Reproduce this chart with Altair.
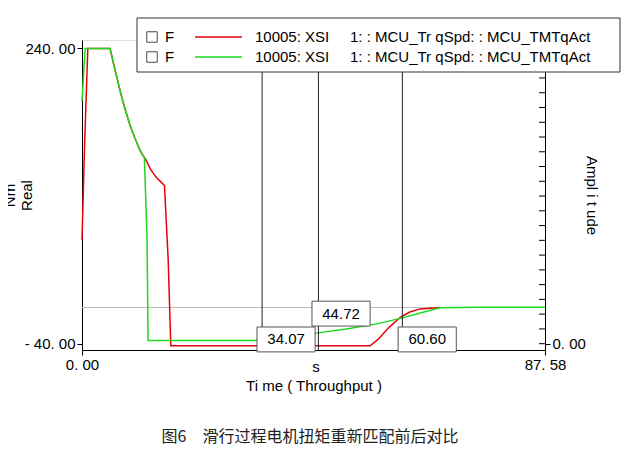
import altair as alt
import pandas as pd

red_t = [0, 0.5, 1.1, 5.3, 6, 7.2, 8, 9.1, 10, 11, 12.1, 13, 14, 15, 15.6, 16.3, 16.8, 54.5, 56, 58, 60.2, 62, 64, 67.7]
red_v = [58, 150, 240, 240, 225, 200, 185, 167, 155, 143, 134, 125, 118, 113, 110, 40, -42, -42, -36, -25, -15, -10, -7, -5.7]
green_t = [0, 0.6, 5.3, 6, 7.2, 8, 9.1, 10, 11, 11.8, 12.3, 12.5, 32.7, 34, 44.3, 50, 56, 60.2, 64, 67.7, 75, 87.58]
green_v = [190, 240, 240, 225, 200, 185, 167, 155, 143, 136, 60, -37, -37, -36, -30, -26, -21, -16, -11, -6, -5.5, -5.5]
cursors = [34.07, 44.72, 60.60]
cursor_labels = ["34.07", "44.72", "60.60"]
box_center = [38.6, 49.0, 65.3]
box_y = [-36, -11.5, -36]
ref_level = -5.7

FONT = "Liberation Sans"
X = alt.Scale(domain=[0, 87.58], nice=False)
Y = alt.Scale(domain=[-46, 248], nice=False)

df = pd.DataFrame({"t": red_t + green_t, "v": red_v + green_v,
                   "s": ["red"] * len(red_t) + ["green"] * len(green_t)})
cur = pd.DataFrame({"x": cursors, "lab": cursor_labels, "c": box_center, "y": box_y})
cur["x1"] = cur.c - 5.5
cur["x2"] = cur.c + 5.5
cur["y1"] = cur.y - 11.8
cur["y2"] = cur.y + 11.8

left_axis = alt.Axis(values=[-40, 240], labelExpr="datum.value == 240 ? '240. 00' : '- 40. 00'",
                     title=["Nm", "Real"], titleFont=FONT, titleFontSize=15, titleFontWeight="normal",
                     labelFont=FONT, labelFontSize=15, labelColor="black", titleColor="black",
                     grid=False, domainColor="black", tickColor="black", titlePadding=-10)
x_axis = alt.Axis(values=[0, 87.58], labelExpr="datum.value == 0 ? '0. 00' : '87. 58'",
                  title="Ti me ( Throughput )", titleFont=FONT, titleFontSize=15,
                  titleFontWeight="normal", labelFont=FONT, labelFontSize=15,
                  labelColor="black", titleColor="black", grid=False,
                  domainColor="black", tickColor="black", labelAlign="center", titlePadding=6)

lines = alt.Chart(df).mark_line(strokeWidth=1.5).encode(
    x=alt.X("t:Q", scale=X, axis=x_axis),
    y=alt.Y("v:Q", scale=Y, axis=left_axis),
    color=alt.Color("s:N", scale=alt.Scale(domain=["red", "green"], range=["#e8000b", "#1ed91e"]), legend=None),
    order=alt.Order("s:N", sort="ascending"),
)
ref = alt.Chart(pd.DataFrame({"v": [ref_level]})).mark_rule(color="#bbbbbb").encode(
    y=alt.Y("v:Q", scale=Y, axis=left_axis))
rules = alt.Chart(cur).mark_rule(color="#222222", strokeWidth=1).encode(x=alt.X("x:Q", scale=X, axis=x_axis))
boxes = alt.Chart(cur).mark_rect(fill="white", stroke="#555555", strokeWidth=1).encode(
    x=alt.X("x1:Q", scale=X, axis=x_axis), x2="x2:Q", y=alt.Y("y1:Q", scale=Y, axis=left_axis), y2="y2:Q")
boxtext = alt.Chart(cur).mark_text(font=FONT, fontSize=15, color="black").encode(
    x=alt.X("c:Q", scale=X, axis=x_axis), y=alt.Y("y:Q", scale=Y, axis=left_axis), text="lab:N")
rticks = alt.Chart(pd.DataFrame({"v": [-40 + 14 * i for i in range(21)]})).mark_rule(color="black").encode(
    y=alt.Y("v:Q", scale=Y, axis=left_axis), x=alt.value(463), x2=alt.value(457))

main = alt.layer(ref, lines, rules, rticks, boxes, boxtext)

right = alt.Chart(pd.DataFrame({"v": [-46, 248]})).mark_point(opacity=0).encode(
    y=alt.Y("v:Q", scale=alt.Scale(domain=[-46, 248], nice=False),
            axis=alt.Axis(orient="right", values=[-40], labelExpr="'0. 00'",
                          title="Ampl i t ude", titleFont=FONT, titleFontSize=15, titleFontWeight="normal",
                          labelFont=FONT, labelFontSize=15, labelColor="black", titleColor="black",
                          grid=False, domainColor="black", tickColor="black", titlePadding=-2)))

extras = []
extras.append(alt.Chart(pd.DataFrame({"t": ["s"]})).mark_text(font=FONT, fontSize=15, color="black").encode(
    x=alt.value(234), y=alt.value(327), text="t:N"))
extras.append(alt.Chart(pd.DataFrame({"a": [0]})).mark_rect(fill="white", stroke="#333", strokeWidth=1).encode(
    x=alt.value(55), x2=alt.value(538), y=alt.value(-22), y2=alt.value(32)))
for yy, col in zip([-3, 17], ["#e8000b", "#1ed91e"]):
    extras.append(alt.Chart(pd.DataFrame({"a": [0]})).mark_square(size=110, filled=False, color="black", strokeWidth=1).encode(
        x=alt.value(70), y=alt.value(yy)))
    extras.append(alt.Chart(pd.DataFrame({"a": [0]})).mark_rule(color=col, strokeWidth=1.5).encode(
        x=alt.value(113), x2=alt.value(160), y=alt.value(yy)))
    for xx, txt in [(83, "F"), (173, "10005: XSI"), (268, "1: : MCU_Tr qSpd: : MCU_TMTqAct")]:
        extras.append(alt.Chart(pd.DataFrame({"t": [txt]})).mark_text(
            font=FONT, fontSize=15, color="black", align="left", baseline="middle").encode(
            x=alt.value(xx), y=alt.value(yy), text="t:N"))
extras.append(alt.Chart(pd.DataFrame({"t": ["图6　滑行过程电机扭矩重新匹配前后对比"]})).mark_text(
    font="Noto Sans CJK SC", fontSize=16, color="#222").encode(
    x=alt.value(228), y=alt.value(397), text="t:N"))

chart = alt.layer(main, right, *extras).resolve_scale(y="independent").properties(
    width=463, height=310, autosize=alt.AutoSizeParams(type="none"),
    padding={"left": 74, "top": 32, "right": 80, "bottom": 110}
).configure_view(stroke="black", strokeWidth=1).configure_axis(grid=False).configure(background="white")

chart.save("out.html", embed_options={"renderer": "svg", "actions": False})
